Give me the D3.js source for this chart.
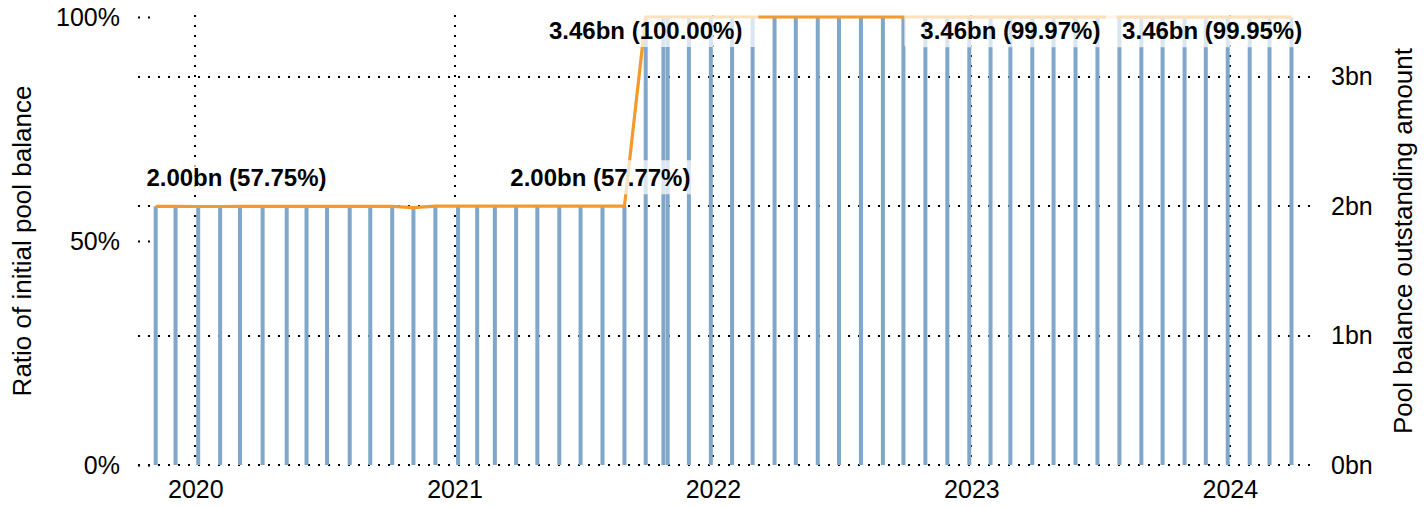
<!DOCTYPE html>
<html>
<head>
<meta charset="utf-8">
<script src="https://cdn.jsdelivr.net/npm/d3@7"></script>
<style>
  body { margin: 0; background: #fff; }
  text { font-family: "Liberation Sans", Arial, sans-serif; fill: #000; }
</style>
</head>
<body>
<div id="chart"></div>
<script>
// payment dates, one bar each
var dates = [
    "2019-11-06", "2019-12-04",
    "2020-01-05", "2020-02-05", "2020-03-04", "2020-04-05", "2020-05-09", "2020-06-06",
    "2020-07-05", "2020-08-06", "2020-09-04", "2020-10-05", "2020-11-04", "2020-12-05",
    "2021-01-06", "2021-02-02", "2021-02-27", "2021-03-29", "2021-04-28", "2021-05-29",
    "2021-06-28", "2021-07-29", "2021-08-29", "2021-09-28", "2021-10-23", "2021-10-29",
    "2021-11-28", "2021-12-29",
    "2022-01-28", "2022-02-26", "2022-03-29", "2022-04-28", "2022-05-29", "2022-06-28",
    "2022-07-29", "2022-08-29", "2022-09-27", "2022-10-28", "2022-11-28", "2022-12-29",
    "2023-01-28", "2023-02-25", "2023-03-28", "2023-04-27", "2023-05-28", "2023-06-28",
    "2023-07-29", "2023-08-29", "2023-09-28", "2023-10-29", "2023-11-28", "2023-12-29",
    "2024-01-29", "2024-02-26", "2024-03-28"
];

// outstanding pool balance, bn
var amounts = [
    2.000, 2.000,
    1.998, 1.998, 2.000, 2.000, 2.000, 2.000,
    2.000, 2.000, 2.000, 2.000, 1.990, 2.001,
    2.001, 2.001, 2.001, 2.001, 2.001, 2.001,
    2.001, 2.001, 2.001, 3.463, 3.463, 3.463,
    3.463, 3.463,
    3.463, 3.463, 3.463, 3.463, 3.463, 3.463,
    3.463, 3.463, 3.463, 3.463, 3.462, 3.462,
    3.462, 3.462, 3.462, 3.462, 3.462, 3.462,
    3.462, 3.462, 3.461, 3.461, 3.461, 3.461,
    3.461, 3.461, 3.461
];

// ratio of initial pool balance
var ratios = [
    0.5775, 0.5775,
    0.5770, 0.5770, 0.5775, 0.5775, 0.5775, 0.5775,
    0.5775, 0.5775, 0.5775, 0.5775, 0.5745, 0.5777,
    0.5777, 0.5777, 0.5777, 0.5777, 0.5777, 0.5777,
    0.5777, 0.5777, 0.5777, 1.0000, 1.0000, 1.0000,
    1.0000, 1.0000,
    1.0000, 1.0000, 1.0000, 1.0000, 1.0000, 1.0000,
    1.0000, 1.0000, 1.0000, 1.0000, 0.9997, 0.9997,
    0.9997, 0.9997, 0.9997, 0.9997, 0.9997, 0.9997,
    0.9997, 0.9997, 0.9995, 0.9995, 0.9995, 0.9995,
    0.9995, 0.9995, 0.9995
];

var initialPool = 3.4632;

var labelDates = ["2020-02-28", "2021-07-26", "2021-09-28", "2023-02-25", "2023-12-07"];
var labelRatios = [0.5775, 0.5777, 1.0000, 0.9997, 0.9995];
var labelTexts = ["2.00bn (57.75%)", "2.00bn (57.77%)", "3.46bn (100.00%)", "3.46bn (99.97%)", "3.46bn (99.95%)"];

var leftTicks = [0, 0.5, 1];
var rightTicks = [0, 1, 2, 3];

var width = 1428, height = 507;
var plotLeft = 138, plotRight = 1312, plotTop = 17, plotBottom = 465;

var parse = d3.timeParse("%Y-%m-%d");
var rows = dates.map(function (d, i) {
    return { date: parse(d), amount: amounts[i], ratio: ratios[i] };
});

var x = d3.scaleTime()
    .domain([parse("2019-10-12"), parse("2024-04-26")])
    .range([plotLeft, plotRight]);
var yLeft = d3.scaleLinear().domain([0, 1]).range([plotBottom, plotTop]);
var yRight = d3.scaleLinear().domain([0, initialPool]).range([plotBottom, plotTop]);

var svg = d3.select("#chart").append("svg")
    .attr("width", width)
    .attr("height", height);

var grid = svg.append("g").attr("class", "grid")
    .attr("stroke", "#000")
    .attr("stroke-width", 2)
    .attr("stroke-dasharray", "2,8");

grid.selectAll("line.h")
    .data(rightTicks)
    .enter().append("line")
    .attr("class", "h")
    .attr("x1", plotLeft).attr("x2", plotRight)
    .attr("y1", function (d) { return Math.round(yRight(d)); })
    .attr("y2", function (d) { return Math.round(yRight(d)); });

grid.selectAll("line.v")
    .data(x.ticks(d3.timeYear))
    .enter().append("line")
    .attr("class", "v")
    .attr("x1", function (d) { return Math.round(x(d)); })
    .attr("x2", function (d) { return Math.round(x(d)); })
    .attr("y1", plotTop - 2).attr("y2", plotBottom);

// bars: outstanding amount
svg.append("g")
    .selectAll("rect")
    .data(rows)
    .enter().append("rect")
    .attr("x", function (d) { return x(d.date) - 2; })
    .attr("width", 4)
    .attr("y", function (d) { return yRight(d.amount); })
    .attr("height", function (d) { return plotBottom - yRight(d.amount); })
    .attr("fill", "#80a7ca");

// line: ratio
var line = d3.line()
    .x(function (d) { return x(d.date); })
    .y(function (d) { return yLeft(d.ratio); });

svg.append("path")
    .datum(rows)
    .attr("d", line)
    .attr("fill", "none")
    .attr("stroke", "#f4992b")
    .attr("stroke-width", 3.2)
    .attr("stroke-linejoin", "round");

// labels
var labels = svg.append("g");
labelDates.forEach(function (d, i) {
    var cx = x(parse(d));
    var ly = yLeft(labelRatios[i]);
    var cy = labelRatios[i] > 0.9 ? ly + 13 : ly - 29;
    var g = labels.append("g");
    var t = g.append("text")
        .attr("x", cx)
        .attr("y", cy + 8.6)
        .attr("text-anchor", "middle")
        .attr("font-size", 24)
        .attr("font-weight", "bold")
        .text(labelTexts[i]);
    var w = t.node().getComputedTextLength();
    g.insert("rect", "text")
        .attr("x", cx - w / 2 - 16)
        .attr("y", cy - 17)
        .attr("width", w + 32)
        .attr("height", 34)
        .attr("rx", 3)
        .attr("fill", "#fff")
        .attr("fill-opacity", 0.7);
});

// left axis
var leftAxis = svg.append("g")
    .attr("transform", "translate(" + plotLeft + ",0)")
    .call(d3.axisLeft(yLeft)
        .tickValues(leftTicks)
        .tickFormat(d3.format(".0%"))
        .tickSize(-15)
        .tickPadding(18));
leftAxis.select(".domain").remove();
leftAxis.selectAll(".tick line")
    .attr("stroke", "#000")
    .attr("stroke-width", 2)
    .attr("stroke-dasharray", "2,8");
leftAxis.selectAll("text")
    .attr("font-size", 25)
    .attr("fill", "#000");

// right axis
var rightAxis = svg.append("g")
    .attr("transform", "translate(" + plotRight + ",0)")
    .call(d3.axisRight(yRight)
        .tickValues(rightTicks)
        .tickFormat(function (d) { return d + "bn"; })
        .tickSize(0)
        .tickPadding(19));
rightAxis.select(".domain").remove();
rightAxis.selectAll("text")
    .attr("font-size", 25)
    .attr("fill", "#000");

// bottom axis
var bottomAxis = svg.append("g")
    .attr("transform", "translate(0," + plotBottom + ")")
    .call(d3.axisBottom(x)
        .ticks(d3.timeYear)
        .tickFormat(d3.timeFormat("%Y"))
        .tickSize(0)
        .tickPadding(15));
bottomAxis.select(".domain").remove();
bottomAxis.selectAll("text")
    .attr("font-size", 25)
    .attr("fill", "#000");

// axis titles
svg.append("text")
    .attr("transform", "translate(31," + (plotTop + plotBottom) / 2 + ") rotate(-90)")
    .attr("text-anchor", "middle")
    .attr("font-size", 26)
    .text("Ratio of initial pool balance");

svg.append("text")
    .attr("transform", "translate(1412," + (plotTop + plotBottom) / 2 + ") rotate(-90)")
    .attr("text-anchor", "middle")
    .attr("font-size", 26)
    .text("Pool balance outstanding amount");
</script>
</body>
</html>
